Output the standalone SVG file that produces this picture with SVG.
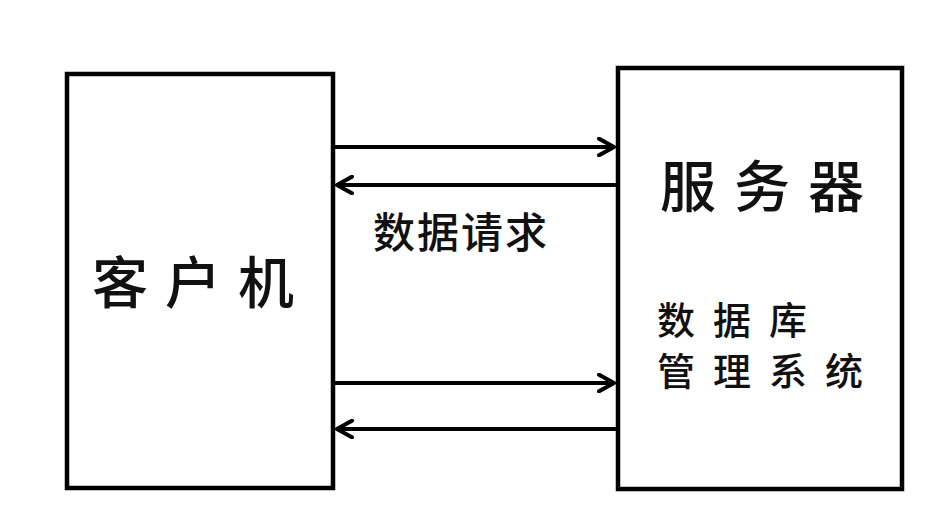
<svg xmlns="http://www.w3.org/2000/svg" width="931" height="521" viewBox="0 0 931 521">
<style>
.box{fill:#fff;stroke:#000;stroke-width:4.5}
.ln{stroke:#000;stroke-width:4;fill:none}
.t{font-family:"Noto Sans CJK SC","Noto Sans CJK JP",sans-serif;fill:#111;font-weight:500}
</style>
<defs>
<marker id="ah" viewBox="0 0 12 12" refX="10" refY="6" markerWidth="5" markerHeight="5" orient="auto" markerUnits="strokeWidth">
<path d="M1,1 L10,6 L1,11" fill="none" stroke="#000" stroke-width="2.4" stroke-linecap="round" stroke-linejoin="round"/>
</marker>
</defs>
<rect width="931" height="521" fill="#fff"/>
<g id="client">
<rect class="box" x="67" y="74" width="266" height="414"/>
<text class="t" x="92" y="303" font-size="56" letter-spacing="17">客户机</text>
</g>
<g id="server">
<rect class="box" x="618" y="68" width="284" height="421"/>
<text class="t" x="660" y="207" font-size="56" letter-spacing="18">服务器</text>
<text class="t" x="657" y="334" font-size="38" letter-spacing="18">数据库</text>
<text class="t" x="657" y="385" font-size="38" letter-spacing="18">管理系统</text>
</g>
<g id="connectors">
<line class="ln" x1="335" y1="147" x2="614" y2="147" marker-end="url(#ah)"/>
<line class="ln" x1="616" y1="185" x2="337" y2="185" marker-end="url(#ah)"/>
<line class="ln" x1="335" y1="383" x2="614" y2="383" marker-end="url(#ah)"/>
<line class="ln" x1="616" y1="429" x2="337" y2="429" marker-end="url(#ah)"/>
<text class="t" x="373" y="248" font-size="42" letter-spacing="2">数据请求</text>
</g>
</svg>
